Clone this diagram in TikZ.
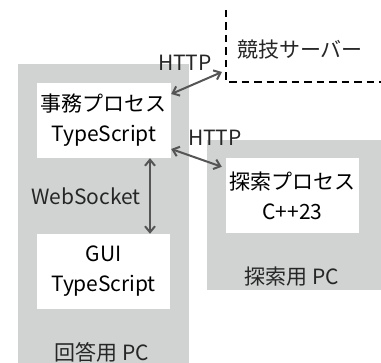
\documentclass[tikz,border=0pt]{standalone}
\usepackage{fontspec}
\setmainfont{Noto Sans CJK JP}
\usetikzlibrary{arrows.meta}
\definecolor{pcgray}{HTML}{D1D3D3}
\definecolor{arrgray}{HTML}{555555}
\tikzset{
  pcbox/.style={fill=pcgray, draw=none},
  procbox/.style={fill=white, draw=none, minimum width=134pt, minimum height=75pt, inner sep=0pt, align=center, font=\fontsize{21}{30}\selectfont},
  lbl/.style={inner sep=0pt, font=\fontsize{21}{24}\selectfont, text=black!85},
  conn/.style={draw=arrgray, line width=2pt, {Straight Barb[length=6pt,width=10pt]}-{Straight Barb[length=6pt,width=10pt]}},
}
\begin{document}
\begin{tikzpicture}[x=1pt,y=-1pt]
\useasboundingbox (0,0) rectangle (381,363);
% PCs
\fill[pcbox] (18,64) rectangle (189,363);
\fill[pcbox] (207,140) rectangle (381,290);
% server
\coordinate (srvtop) at (226,10);
\coordinate (srvcorner) at (226,82);
\coordinate (srvright) at (381,82);
\draw[line width=2.2pt, dash pattern=on 7.5pt off 5pt] (srvtop) -- (srvcorner) -- (srvright);
\node[lbl] (srv) at (300,50) {競技サーバー};
% processes
\node[procbox] (jimu) at (104,120.5) {事務プロセス\\TypeScript};
\node[procbox, minimum width=133pt] (gui) at (103.5,271.5) {GUI\\TypeScript};
\node[procbox, minimum width=133pt] (tansaku) at (292.5,195.5) {探索プロセス\\C++23};
% labels
\node[lbl] (pcA) at (102,352) {回答用 PC};
\node[lbl] (pcB) at (292,277) {探索用 PC};
\node[lbl] (http1) at (185,63) {HTTP};
\node[lbl] (http2) at (215,138) {HTTP};
\node[lbl] (ws) at (86,196) {WebSocket};
% connectors
\coordinate (srvend) at (222,72);
\draw[conn] ([yshift=26.5pt]jimu.east) -- (srvend);
\draw[conn] ([yshift=-28.5pt]jimu.east) -- ([shift={(-4pt,-9pt)}]tansaku.north west);
\coordinate (wsA) at ([xshift=46pt]jimu.south);
\draw[conn] (wsA) -- (wsA |- gui.north);
\end{tikzpicture}
\end{document}
